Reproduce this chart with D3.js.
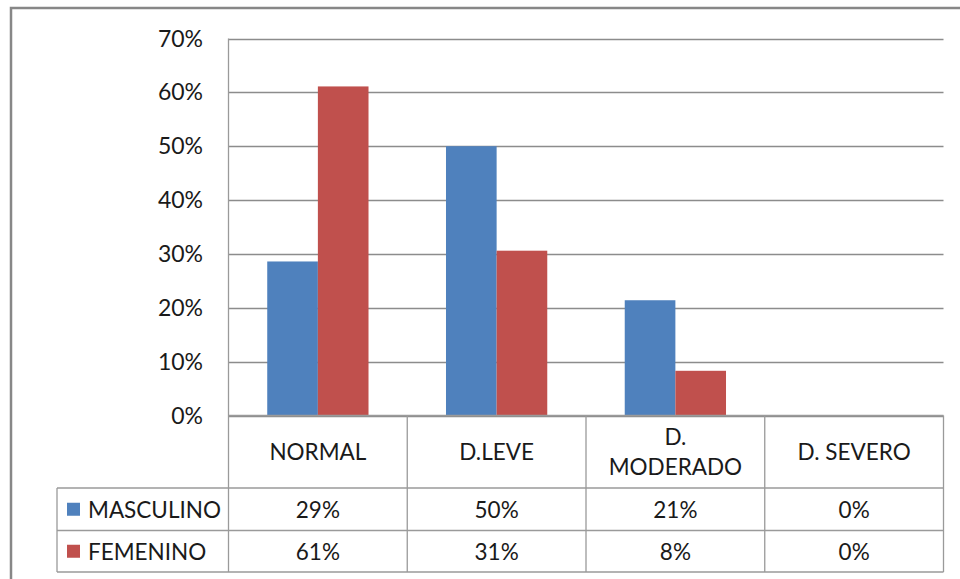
<!DOCTYPE html>
<html><head><meta charset="utf-8">
<script src="https://cdn.jsdelivr.net/npm/d3@7"></script>
<style>
html,body{margin:0;padding:0;background:#fff;}
svg{display:block;}
text{font-family:Lato,"Open Sans",sans-serif;fill:#1a1a1a;}
</style></head>
<body>
<svg id="c" width="960" height="579"></svg>
<script>
const categories = ["NORMAL", "D.LEVE", "D.\nMODERADO", "D. SEVERO"];
const seriesNames = ["MASCULINO", "FEMENINO"];
const masculino = [0.286, 0.50, 0.214, 0.0];
const femenino = [0.611, 0.306, 0.083, 0.0];
const tableMasculino = ["29%", "50%", "21%", "0%"];
const tableFemenino = ["61%", "31%", "8%", "0%"];
const yTicks = [0, 0.1, 0.2, 0.3, 0.4, 0.5, 0.6, 0.7];
const colors = ["#4F81BD", "#C0504D"];

const svg = d3.select("#c");
const plotL = 228.5, plotR = 943.5, plotT = 38.5, plotB = 415.5;
const legL = 57;
const rowBounds = [415.5, 488, 530.5, 572];

// outer frame
svg.append("rect").attr("x", 11).attr("y", 8).attr("width", 980).attr("height", 600)
  .attr("fill", "none").attr("stroke", "#878787").attr("stroke-width", 2.5);

const x = d3.scaleBand().domain(categories).range([plotL, plotR]).paddingInner(0).paddingOuter(0);
const xs = d3.scaleBand().domain(seriesNames).range([0, x.bandwidth()]).paddingInner(0).paddingOuter(0.765);
const y = d3.scaleLinear().domain([0, 0.7]).range([plotB, plotT]);

// gridlines
svg.append("g").selectAll("line").data(yTicks).join("line")
  .attr("x1", plotL).attr("x2", plotR)
  .attr("y1", d => Math.round(y(d)) + 0.5).attr("y2", d => Math.round(y(d)) + 0.5)
  .attr("stroke", "#8c8c8c").attr("stroke-width", 1.3);

// y tick labels
svg.append("g").selectAll("text").data(yTicks).join("text")
  .attr("x", 203).attr("y", d => y(d) - 1)
  .attr("text-anchor", "end").attr("dominant-baseline", "central")
  .style("font-size", "23px")
  .text(d3.format(".0%"));

// bars
const seriesData = [masculino, femenino];
seriesData.forEach((vals, si) => {
  svg.append("g").selectAll("rect").data(vals).join("rect")
    .attr("x", (d, i) => x(categories[i]) + xs(seriesNames[si]))
    .attr("width", xs.bandwidth())
    .attr("y", d => y(d))
    .attr("height", d => plotB - y(d))
    .attr("fill", colors[si]);
});

// table lines
const tl = svg.append("g").attr("stroke", "#9a9a9a").attr("stroke-width", 1.3);
tl.append("line").attr("x1", plotL).attr("x2", plotL).attr("y1", plotT).attr("y2", rowBounds[3]);
categories.forEach((c, i) => {
  const xx = x(c) + x.bandwidth();
  tl.append("line").attr("x1", xx).attr("x2", xx).attr("y1", rowBounds[0]).attr("y2", rowBounds[3]);
});
tl.append("line").attr("x1", plotL).attr("x2", plotR).attr("y1", rowBounds[0]).attr("y2", rowBounds[0]);
[1, 2, 3].forEach(r => {
  tl.append("line").attr("x1", legL).attr("x2", plotR).attr("y1", rowBounds[r]).attr("y2", rowBounds[r]);
});
tl.append("line").attr("x1", legL).attr("x2", legL).attr("y1", rowBounds[1]).attr("y2", rowBounds[3]);

// category labels
categories.forEach(c => {
  const lines = c.split("\n");
  const cx = x(c) + x.bandwidth() / 2;
  const cy = (rowBounds[0] + rowBounds[1]) / 2;
  const lh = 30;
  lines.forEach((ln, li) => {
    svg.append("text").attr("x", cx).attr("y", cy + (li - (lines.length - 1) / 2) * lh)
      .attr("text-anchor", "middle").attr("dominant-baseline", "central")
      .style("font-size", "22.5px").text(ln);
  });
});

// data rows
const tableRows = [tableMasculino, tableFemenino];
tableRows.forEach((row, ri) => {
  const cy = (rowBounds[ri + 1] + rowBounds[ri + 2]) / 2;
  svg.append("rect").attr("x", 67).attr("y", cy - 6.5).attr("width", 13).attr("height", 13).attr("fill", colors[ri]);
  svg.append("text").attr("x", 88).attr("y", cy).attr("dominant-baseline", "central")
    .style("font-size", "22.5px").text(seriesNames[ri]);
  row.forEach((v, i) => {
    svg.append("text").attr("x", x(categories[i]) + x.bandwidth() / 2).attr("y", cy)
      .attr("text-anchor", "middle").attr("dominant-baseline", "central")
      .style("font-size", "22.5px").text(v);
  });
});
</script>
</body></html>
